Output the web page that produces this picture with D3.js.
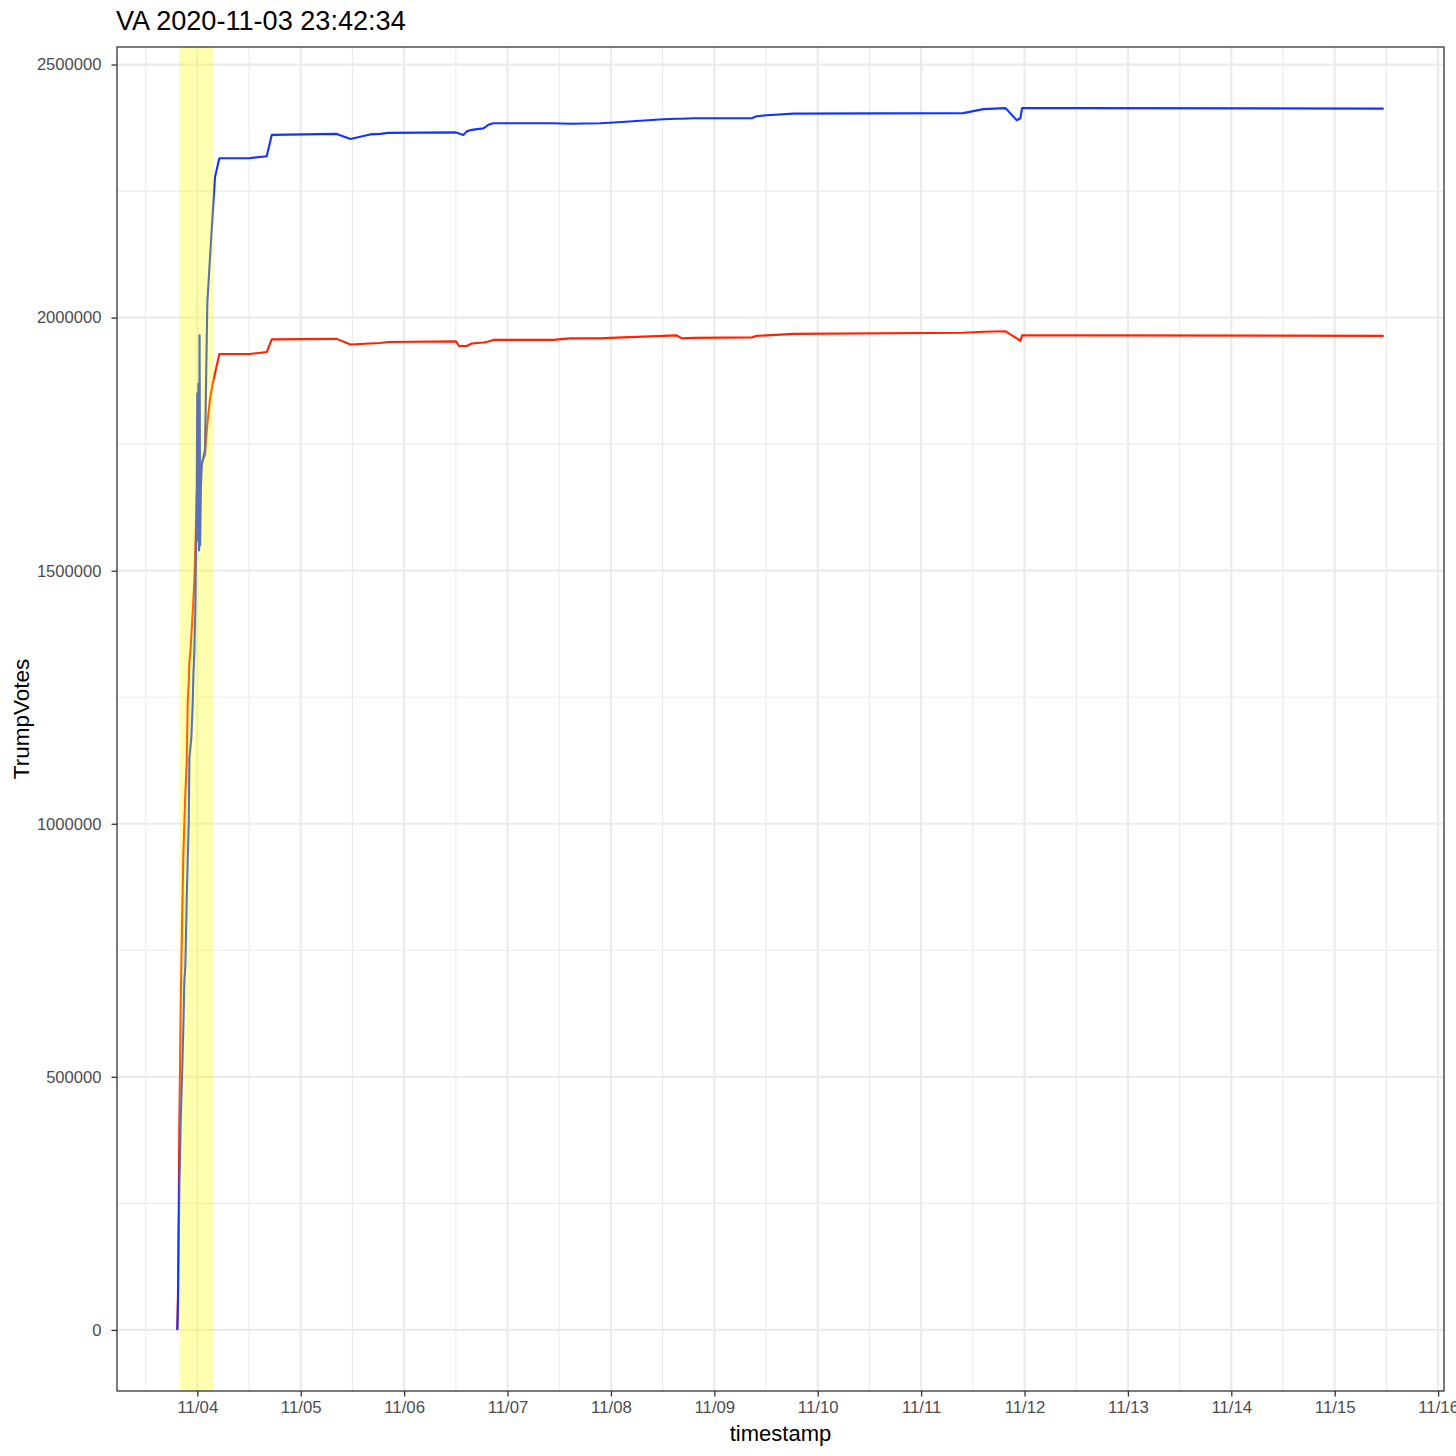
<!DOCTYPE html>
<html>
<head>
<meta charset="utf-8">
<script src="https://cdn.jsdelivr.net/npm/d3@7"></script>
<style>
  html, body { margin: 0; padding: 0; background: #ffffff; }
  svg { display: block; font-family: "Liberation Sans", Arial, Helvetica, sans-serif; }
</style>
</head>
<body>
<svg id="chart" width="1456" height="1456"></svg>
<script>
// ---- data ----
const chartTitle = "VA 2020-11-03 23:42:34";
const xLabel = "timestamp";
const yLabel = "TrumpVotes";

const timestamps = [
  "2020-11-03 19:21","2020-11-03 19:31","2020-11-03 19:41","2020-11-03 19:49","2020-11-03 19:59",
  "2020-11-03 20:09","2020-11-03 20:27","2020-11-03 20:45","2020-11-03 20:59","2020-11-03 21:13",
  "2020-11-03 21:32","2020-11-03 21:46","2020-11-03 22:00","2020-11-03 22:09","2020-11-03 22:23",
  "2020-11-03 22:36","2020-11-03 22:56","2020-11-03 23:04","2020-11-03 23:18","2020-11-03 23:31",
  "2020-11-03 23:42","2020-11-03 23:50","2020-11-03 23:59",
  "2020-11-04 00:07","2020-11-04 00:15","2020-11-04 00:24","2020-11-04 00:31","2020-11-04 00:39",
  "2020-11-04 00:49","2020-11-04 01:01","2020-11-04 01:19","2020-11-04 01:47","2020-11-04 02:01",
  "2020-11-04 02:19","2020-11-04 02:57","2020-11-04 03:34","2020-11-04 04:06","2020-11-04 05:06",
  "2020-11-04 12:04","2020-11-04 16:06","2020-11-04 17:16",
  "2020-11-05 08:21","2020-11-05 11:32","2020-11-05 16:05","2020-11-05 18:24","2020-11-05 20:20",
  "2020-11-06 12:03","2020-11-06 12:44","2020-11-06 13:44","2020-11-06 14:32","2020-11-06 15:41",
  "2020-11-06 18:23","2020-11-06 19:33","2020-11-06 20:42",
  "2020-11-07 10:38","2020-11-07 14:30","2020-11-07 21:28","2020-11-07 23:47",
  "2020-11-08 12:10","2020-11-08 15:16","2020-11-08 16:26","2020-11-08 19:07",
  "2020-11-09 08:41","2020-11-09 09:50","2020-11-09 12:11","2020-11-09 18:24",
  "2020-11-11 09:46","2020-11-11 14:26","2020-11-11 19:36","2020-11-11 22:12","2020-11-11 23:02",
  "2020-11-11 23:26",
  "2020-11-12 11:40","2020-11-15 11:22"
];

// blue series (Biden), votes
const bidenVotes = [
  0, 60000, 190000, 280000, 340000, 420000, 500000, 600000, 690000, 720000,
  850000, 930000, 1000000, 1130000, 1150000, 1170000, 1240000, 1290000, 1340000, 1420000,
  1550000, 1620000, 1850000,
  1560000, 1870000, 1540000, 1965000, 1550000, 1660000, 1710000, 1720000, 1740000, 1870000,
  2030000, 2120000, 2206000, 2278000, 2315000, 2315000, 2319000, 2361000,
  2363000, 2353000, 2362000, 2363000, 2365000,
  2366000, 2364000, 2361000, 2368000, 2371000, 2374000, 2381000, 2384000,
  2384000, 2383000, 2384000, 2385000,
  2392000, 2393000, 2393000, 2394000,
  2394000, 2398000, 2400000, 2403000,
  2404000, 2412000, 2414000, 2390000, 2394000, 2414000,
  2414000, 2413000
];

// red series (Trump), votes
const trumpVotes = [
  0, 80000, 250000, 400000, 520000, 650000, 800000, 940000, 1000000, 1060000,
  1120000, 1240000, 1280000, 1320000, 1340000, 1370000, 1420000, 1440000, 1480000, 1540000,
  1600000, 1640000, 1670000,
  1690000, 1700000, 1700000, 1700000, 1700000, 1700000, 1710000, 1720000, 1730000, 1760000,
  1790000, 1840000, 1870000, 1890000, 1928000, 1928000, 1932000, 1957000,
  1958000, 1947000, 1949000, 1950000, 1952000,
  1953000, 1944000, 1944000, 1944000, 1949000, 1951000, 1953000, 1956000,
  1956000, 1959000, 1959000, 1960000,
  1964000, 1965000, 1959000, 1960000,
  1961000, 1964000, 1965000, 1968000,
  1970000, 1972000, 1973000, 1959000, 1954000, 1965000,
  1965000, 1964000
];

const highlightStart = "2020-11-03 19:48";
const highlightEnd = "2020-11-04 03:48";

const yTickValues = [0, 500000, 1000000, 1500000, 2000000, 2500000];
const yMinorValues = [250000, 750000, 1250000, 1750000, 2250000];

// ---- layout ----
const W = 1456, H = 1456;
const panel = { left: 117, right: 1444, top: 47, bottom: 1391 };

const parse = d3.timeParse("%Y-%m-%d %H:%M");
const times = timestamps.map(parse);

const svg = d3.select("#chart");
svg.append("rect").attr("width", W).attr("height", H).attr("fill", "#ffffff");

// ggplot-like 5% expansion
const tExt = d3.extent(times);
const tSpan = tExt[1] - tExt[0];
const x = d3.scaleTime()
  .domain([new Date(+tExt[0] - 0.05 * tSpan), new Date(+tExt[1] + 0.05 * tSpan)])
  .range([panel.left, panel.right]);

const yMax = d3.max([d3.max(bidenVotes), d3.max(trumpVotes)]);
const yMin = 0;
const ySpan = yMax - yMin;
const y = d3.scaleLinear()
  .domain([yMin - 0.05 * ySpan, yMax + 0.05 * ySpan])
  .range([panel.bottom, panel.top]);

const g = svg.append("g");

// panel background
g.append("rect")
  .attr("x", panel.left).attr("y", panel.top)
  .attr("width", panel.right - panel.left).attr("height", panel.bottom - panel.top)
  .attr("fill", "#ffffff");

// gridlines
const dayTicks = d3.timeDay.range(d3.timeDay.ceil(x.domain()[0]), x.domain()[1]);
const allDays = d3.timeDay.range(d3.timeDay.floor(x.domain()[0]), d3.timeDay.offset(x.domain()[1], 1));
const noonTicks = allDays.map(d => d3.timeHour.offset(d, 12))
  .filter(d => d > x.domain()[0] && d < x.domain()[1]);

const grid = g.append("g");
grid.selectAll(".vminor").data(noonTicks).join("line")
  .attr("x1", d => x(d)).attr("x2", d => x(d))
  .attr("y1", panel.top).attr("y2", panel.bottom)
  .attr("stroke", "#ebebeb").attr("stroke-width", 1.1);
grid.selectAll(".hminor").data(yMinorValues).join("line")
  .attr("x1", panel.left).attr("x2", panel.right)
  .attr("y1", d => y(d)).attr("y2", d => y(d))
  .attr("stroke", "#ebebeb").attr("stroke-width", 1.1);
grid.selectAll(".vmajor").data(dayTicks).join("line")
  .attr("x1", d => x(d)).attr("x2", d => x(d))
  .attr("y1", panel.top).attr("y2", panel.bottom)
  .attr("stroke", "#ebebeb").attr("stroke-width", 2.2);
grid.selectAll(".hmajor").data(yTickValues).join("line")
  .attr("x1", panel.left).attr("x2", panel.right)
  .attr("y1", d => y(d)).attr("y2", d => y(d))
  .attr("stroke", "#ebebeb").attr("stroke-width", 2.2);

// lines
const lineGen = vals => d3.line()
  .x((d, i) => x(times[i]))
  .y(d => y(d))(vals);

g.append("path")
  .attr("d", lineGen(trumpVotes))
  .attr("fill", "none").attr("stroke", "#ff2200")
  .attr("stroke-width", 2.1).attr("stroke-linejoin", "round");
g.append("path")
  .attr("d", lineGen(bidenVotes))
  .attr("fill", "none").attr("stroke", "#1433ff")
  .attr("stroke-width", 2.1).attr("stroke-linejoin", "round");

// highlight band drawn over the lines
g.append("rect")
  .attr("x", x(parse(highlightStart)))
  .attr("y", panel.top)
  .attr("width", x(parse(highlightEnd)) - x(parse(highlightStart)))
  .attr("height", panel.bottom - panel.top)
  .attr("fill", "#ffff00").attr("fill-opacity", 0.31);

// panel border
g.append("rect")
  .attr("x", panel.left).attr("y", panel.top)
  .attr("width", panel.right - panel.left).attr("height", panel.bottom - panel.top)
  .attr("fill", "none").attr("stroke", "#333333").attr("stroke-width", 1.3);

// axes
const xAxis = d3.axisBottom(x)
  .tickValues(dayTicks)
  .tickFormat(d3.timeFormat("%m/%d"))
  .tickSize(5.5).tickPadding(5);
const xg = svg.append("g").attr("transform", `translate(0,${panel.bottom})`).call(xAxis);
xg.select(".domain").remove();
xg.selectAll(".tick line").attr("stroke", "#333333").attr("stroke-width", 1.3);
xg.selectAll(".tick text").attr("fill", "#4d4d4d").attr("font-size", 16.8)
  .attr("font-family", "'Liberation Sans', Arial, sans-serif");

const yAxis = d3.axisLeft(y)
  .tickValues(yTickValues)
  .tickFormat(d3.format("d"))
  .tickSize(5.5).tickPadding(10);
const yg = svg.append("g").attr("transform", `translate(${panel.left},0)`).call(yAxis);
yg.select(".domain").remove();
yg.selectAll(".tick line").attr("stroke", "#333333").attr("stroke-width", 1.3);
yg.selectAll(".tick text").attr("fill", "#4d4d4d").attr("font-size", 16.6)
  .attr("font-family", "'Liberation Sans', Arial, sans-serif");

// titles
svg.append("text")
  .attr("x", 116).attr("y", 30)
  .attr("font-size", 27.1).attr("fill", "#000000")
  .text(chartTitle);

svg.append("text")
  .attr("x", (panel.left + panel.right) / 2).attr("y", 1441)
  .attr("text-anchor", "middle")
  .attr("font-size", 22).attr("fill", "#000000")
  .text(xLabel);

svg.append("text")
  .attr("transform", `translate(29,${(panel.top + panel.bottom) / 2}) rotate(-90)`)
  .attr("text-anchor", "middle")
  .attr("font-size", 22.5).attr("fill", "#000000")
  .text(yLabel);
</script>
</body>
</html>
